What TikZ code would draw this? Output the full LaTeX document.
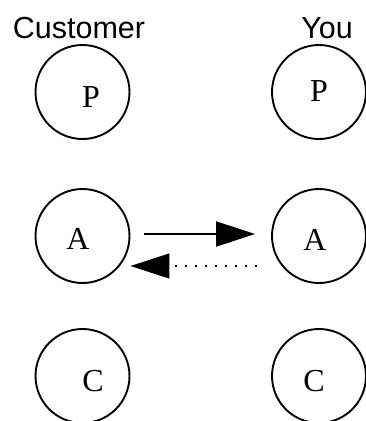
\documentclass[tikz,border=0pt]{standalone}
\usepackage{fontspec}
\setmainfont{Liberation Serif}
\newfontfamily\labelfont{Liberation Sans}
\usetikzlibrary{arrows.meta}
\begin{document}
\begin{tikzpicture}[x=1pt,y=-1pt,
  role/.style={circle,draw,line width=1.9pt,minimum size=94pt,inner sep=0pt},
  letter/.style={font=\fontsize{32}{36}\selectfont,inner sep=0pt},
  head/.style={font=\labelfont\fontsize{30.5}{34}\selectfont,inner sep=0pt,anchor=base},
  bigtip/.style={-{Triangle[length=39pt,width=25pt]}}]
\useasboundingbox[fill=white] (0,0) rectangle (366,421);
% column headings
\node[head] (hc) at (79,38) {Customer};
\node[head] (hy) at (327,38) {You};
% customer side
\node[role] (cP) at (82.5,92) {};
\node[role] (cA) at (82.5,236) {};
\node[role] (cC) at (82.5,376) {};
% your side
\node[role] (yP) at (319,92) {};
\node[role] (yA) at (319,236) {};
\node[role] (yC) at (319,376) {};
% letters inside the circles
\node[letter] (tcP) at (91,97) {P};
\node[letter] (tcA) at (78,239) {A};
\node[letter] (tcC) at (93,381) {C};
\node[letter] (tyP) at (319,91) {P};
\node[letter] (tyA) at (315,240) {A};
\node[letter] (tyC) at (314,381) {C};
% exchange between the two A circles
\draw[bigtip,line width=1.9pt,shorten <=14pt,shorten >=16pt]
  ([yshift=2pt]cA.east) -- ([yshift=2pt]yA.west);
\draw[bigtip,line width=1.2pt,dash pattern=on 2pt off 8pt,shorten <=14pt,shorten >=0pt]
  ([yshift=-30pt]yA.west) -- ([yshift=-30pt]cA.east);
\end{tikzpicture}
\end{document}
